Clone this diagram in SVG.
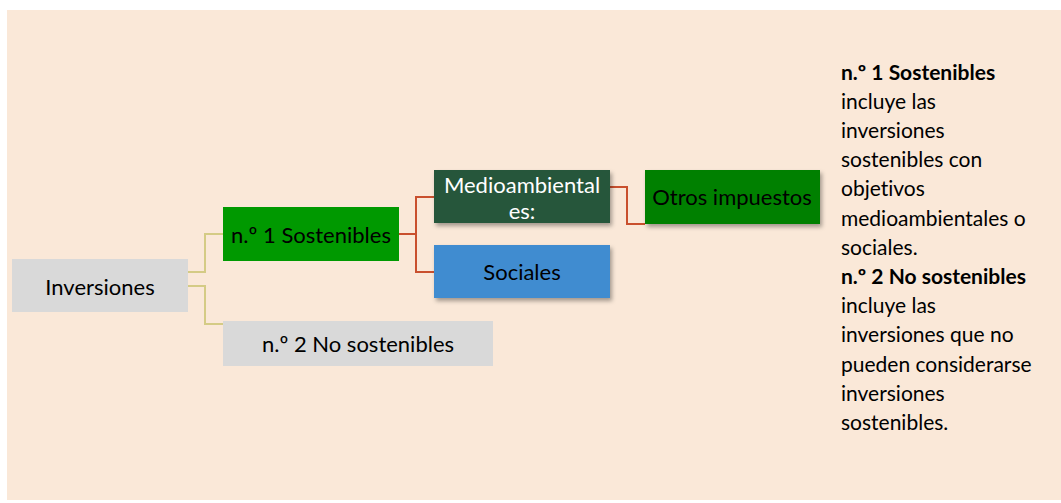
<svg xmlns="http://www.w3.org/2000/svg" width="1061" height="503" viewBox="0 0 1061 503">
<defs>
<filter id="sh" x="-10%" y="-20%" width="130%" height="160%">
<feDropShadow dx="2" dy="3" stdDeviation="2" flood-color="#000" flood-opacity="0.35"/>
</filter>
<style>
.t{font-family:Lato,"Open Sans","Liberation Sans",sans-serif;font-size:22px;text-anchor:middle;dominant-baseline:central;font-variant-ligatures:none}
.d{font-family:Lato,"Open Sans","Liberation Sans",sans-serif;font-size:21px;fill:#000;font-variant-ligatures:none}
.b{font-weight:bold}
.g{fill:none;stroke:#D4CB85;stroke-width:2}
.r{fill:none;stroke:#C9502E;stroke-width:2}
</style>
</defs>
<rect x="7" y="10" width="1054" height="490" fill="#FAE8D8"/>
<g id="connectors">
<path class="g" d="M188,272 H205 V234 H223"/>
<path class="g" d="M188,286 H205 V324 H223"/>
<path class="r" d="M399,234 H416"/>
<path class="r" d="M434,197 H416 V272 H434"/>
<path class="r" d="M610,187 H627 V224 H645"/>
</g>
<g id="n-inversiones">
<rect x="12" y="259" width="176" height="53" fill="#D9D9D9"/>
<text class="t" x="100" y="286" fill="#000">Inversiones</text>
</g>
<g id="n-sost">
<rect x="223" y="207" width="176" height="54" fill="#009900"/>
<text class="t" x="311" y="234" fill="#000">n.º 1 Sostenibles</text>
</g>
<g id="n-nosost">
<rect x="223" y="321" width="270" height="45" fill="#D9D9D9"/>
<text class="t" x="358" y="343" fill="#000">n.º 2 No sostenibles</text>
</g>
<g id="n-medio">
<rect x="434" y="170" width="176" height="53" fill="#27573B" filter="url(#sh)"/>
<text class="t" x="522" y="184" fill="#fff">Medioambiental</text>
<text class="t" x="522" y="210" fill="#fff">es:</text>
</g>
<g id="n-sociales">
<rect x="434" y="245" width="176" height="53" fill="#3F8CD0" filter="url(#sh)"/>
<text class="t" x="522" y="271" fill="#000">Sociales</text>
</g>
<g id="n-otros">
<rect x="645" y="170" width="175" height="54" fill="#008000" filter="url(#sh)"/>
<text class="t" x="732" y="196" fill="#000">Otros impuestos</text>
</g>
<g id="description">
<text class="d" x="841">
<tspan x="841" y="80" class="b">n.º 1 Sostenibles</tspan>
<tspan x="841" y="109">incluye las</tspan>
<tspan x="841" y="138">inversiones</tspan>
<tspan x="841" y="167">sostenibles con</tspan>
<tspan x="841" y="196">objetivos</tspan>
<tspan x="841" y="226">medioambientales o</tspan>
<tspan x="841" y="255">sociales.</tspan>
<tspan x="841" y="284" class="b">n.º 2 No sostenibles</tspan>
<tspan x="841" y="313">incluye las</tspan>
<tspan x="841" y="342">inversiones que no</tspan>
<tspan x="841" y="372">pueden considerarse</tspan>
<tspan x="841" y="401">inversiones</tspan>
<tspan x="841" y="430">sostenibles.</tspan>
</text>
</g>
</svg>
